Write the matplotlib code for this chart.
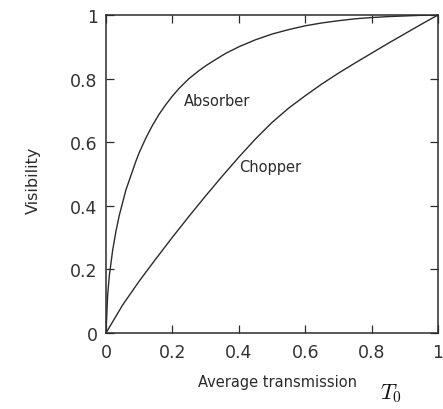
import matplotlib.pyplot as plt

plt.rcParams['mathtext.fontset'] = 'cm'

# values
t_abs = [0, 0.005, 0.01, 0.02, 0.03, 0.04, 0.05, 0.06, 0.07, 0.08, 0.09, 0.1,
         0.12, 0.14, 0.16, 0.18, 0.2, 0.22, 0.25, 0.28, 0.3, 0.33, 0.36, 0.4,
         0.45, 0.5, 0.55, 0.6, 0.65, 0.7, 0.75, 0.8, 0.85, 0.9, 0.95, 1.0]
v_abs = [0, 0.12, 0.18, 0.26, 0.32, 0.37, 0.41, 0.45, 0.48, 0.51, 0.54, 0.567,
         0.613, 0.653, 0.688, 0.718, 0.745, 0.769, 0.80, 0.825, 0.84, 0.86,
         0.879, 0.90, 0.922, 0.94, 0.954, 0.966, 0.975, 0.982, 0.988, 0.992,
         0.995, 0.997, 0.999, 1.0]

t_chop = [0, 0.05, 0.1, 0.15, 0.2, 0.25, 0.3, 0.35, 0.4, 0.45, 0.5, 0.55,
          0.6, 0.65, 0.7, 0.75, 0.8, 0.85, 0.9, 0.95, 1.0]
v_chop = [0, 0.088, 0.163, 0.233, 0.301, 0.367, 0.431, 0.493, 0.553, 0.610,
          0.662, 0.707, 0.746, 0.783, 0.817, 0.849, 0.880, 0.911, 0.941,
          0.971, 1.0]

ticks = [0, 0.2, 0.4, 0.6, 0.8, 1]
tick_labels = ['0', '0.2', '0.4', '0.6', '0.8', '1']

ink = '#2b2b2b'

fig = plt.figure(figsize=(4.43, 4.10), dpi=100)
ax = fig.add_axes([106 / 443, 76 / 410, 332 / 443, 318 / 410])

ax.plot(t_abs, v_abs, color=ink, lw=1.0)
ax.plot(t_chop, v_chop, color=ink, lw=1.0)

ax.set_xlim(0, 1)
ax.set_ylim(0, 1)
ax.set_xticks(ticks)
ax.set_xticklabels(tick_labels)
ax.set_yticks(ticks)
ax.set_yticklabels(tick_labels)
ax.tick_params(direction='in', length=6, width=0.9, color=ink,
               top=True, right=True, labelsize=12.5, labelcolor='#333333')
ax.tick_params(axis='x', pad=7)
ax.tick_params(axis='y', pad=6)
for s in ax.spines.values():
    s.set_color(ink)
    s.set_linewidth(1.1)

ax.text(0.335, 0.73, 'Absorber', fontsize=10.5, color=ink, ha='center', va='center')
ax.text(0.495, 0.525, 'Chopper', fontsize=10.5, color=ink, ha='center', va='center')

fig.text(33 / 443, 1 - 180 / 410, 'Visibility', rotation=90, fontsize=11.5,
         color=ink, ha='center', va='center')
fig.text(278 / 443, 1 - 383 / 410, 'Average transmission', fontsize=10.5,
         color=ink, ha='center', va='center')
fig.text(380 / 443, 1 - 399 / 410, r'$T_0$', fontsize=16, color='#111111',
         ha='left', va='baseline')

fig.savefig('out.png', dpi=100, facecolor='white')
